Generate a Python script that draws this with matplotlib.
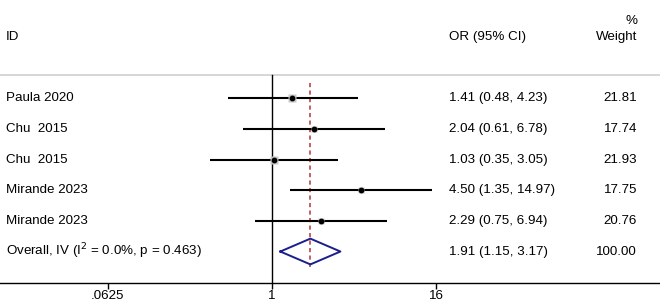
import matplotlib
matplotlib.use("Agg")
import matplotlib.pyplot as plt
import matplotlib.transforms as mtransforms

import numpy as np

plt.rcParams["font.family"] = ["Liberation Sans", "DejaVu Sans"]
plt.rcParams["font.size"] = 9.6

studies = ["Paula 2020", "Chu  2015", "Chu  2015", "Mirande 2023", "Mirande 2023"]
odds = [1.41, 2.04, 1.03, 4.50, 2.29]
lower = [0.48, 0.61, 0.35, 1.35, 0.75]
upper = [4.23, 6.78, 3.05, 14.97, 6.94]
weights = [21.81, 17.74, 21.93, 17.75, 20.76]

overall_label = "Overall, IV (I$^2$ = 0.0%, p = 0.463)"
overall_or = 1.91
overall_lo = 1.15
overall_hi = 3.17
overall_weight = 100.00

tick_vals = [0.0625, 1, 16]
tick_labels = [".0625", "1", "16"]

fig = plt.figure(figsize=(6.6, 3.04), dpi=100)
ax = fig.add_axes([0, 21.5 / 304, 1, 282.5 / 304])

# log2 scale: x_pix = 272 + 41.1 * log2(OR)
ax.set_xscale("log", base=2)
ax.set_xlim(2 ** (-272 / 41.1), 2 ** ((660 - 272) / 41.1))
ax.set_ylim(6.01, -3.2)

for s in ["top", "left", "right"]:
    ax.spines[s].set_visible(False)
ax.spines["bottom"].set_linewidth(1.0)
ax.set_yticks([])
ax.set_xticks(tick_vals)
ax.set_xticklabels(tick_labels)
ax.xaxis.set_minor_locator(matplotlib.ticker.NullLocator())
ax.tick_params(axis="x", direction="out", length=4, width=1, pad=1.5, labelsize=9.6)

trans = mtransforms.blended_transform_factory(ax.transAxes, ax.transData)

# header
ax.text(6 / 660, -2.0, "ID", transform=trans, va="center", ha="left")
ax.text(449 / 660, -2.0, "OR (95% CI)", transform=trans, va="center", ha="left")
ax.text(637 / 660, -2.0, "Weight", transform=trans, va="center", ha="right")
ax.text(637 / 660, -2.52, "%", transform=trans, va="center", ha="right")

ax.plot([0, 1], [-0.75, -0.75], transform=trans, color="#d0d0d0", lw=1.2, clip_on=False)

# null line and overall line
ax.plot([1, 1], [-0.75, 6.01], color="black", lw=1.0)
ax.plot([overall_or, overall_or], [-0.49, 5.52], color="#b5474b", lw=1.2, dashes=(2.5, 2))

for i in range(len(studies)):
    ax.plot([lower[i], upper[i]], [i, i], color="black", lw=1.5, solid_capstyle="butt")
    ax.plot(odds[i], i, marker="s", ms=np.sqrt(weights[i]) * 1.1, color="#c8c8c8", mec="none")
    ax.plot(odds[i], i, marker="o", ms=3.2, color="black")
    ax.text(6 / 660, i, studies[i], transform=trans, va="center", ha="left")
    ax.text(449 / 660, i, "%.2f (%.2f, %.2f)" % (odds[i], lower[i], upper[i]),
            transform=trans, va="center", ha="left")
    ax.text(637 / 660, i, "%.2f" % weights[i], transform=trans, va="center", ha="right")

row = len(studies)
h = 0.42
ax.plot([overall_lo, overall_or, overall_hi, overall_or, overall_lo],
        [row, row - h, row, row + h, row], color="#1a1f8c", lw=1.4)
ax.text(6 / 660, row, overall_label, transform=trans, va="center", ha="left")
ax.text(449 / 660, row, "%.2f (%.2f, %.2f)" % (overall_or, overall_lo, overall_hi),
        transform=trans, va="center", ha="left")
ax.text(637 / 660, row, "%.2f" % overall_weight, transform=trans, va="center", ha="right")

fig.savefig("out.png", dpi=100)
